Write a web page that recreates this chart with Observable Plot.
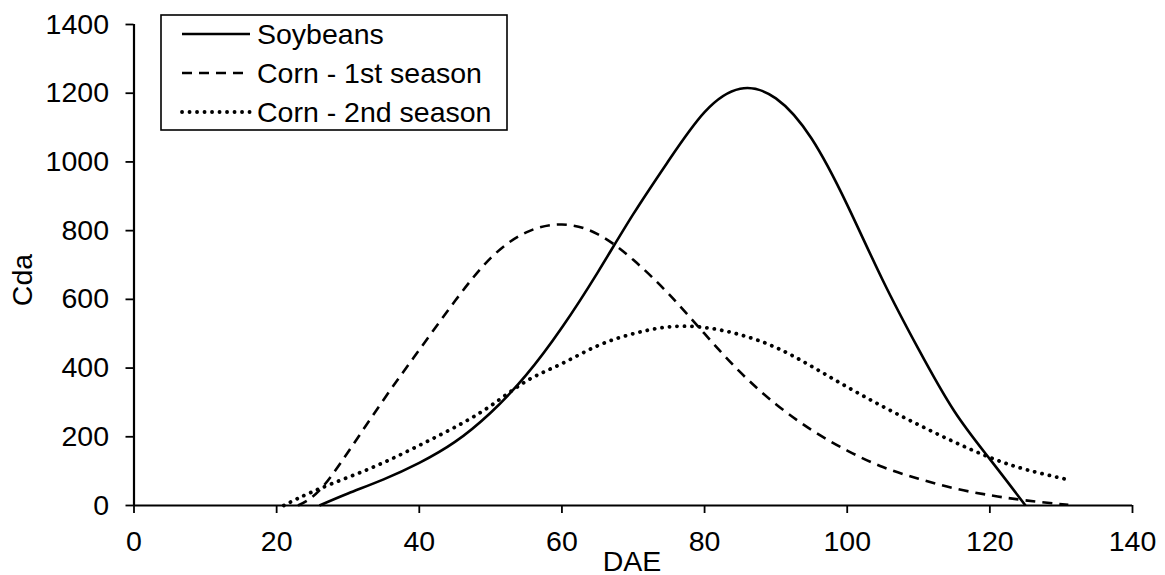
<!DOCTYPE html>
<html>
<head>
<meta charset="utf-8">
<script src="https://cdn.jsdelivr.net/npm/d3@7"></script>
<script src="https://cdn.jsdelivr.net/npm/@observablehq/plot@0.6"></script>
<style>
  html, body { margin: 0; padding: 0; background: #fff; }
  #chart { position: relative; width: 1165px; height: 575px; }
</style>
</head>
<body>
<div id="chart"></div>
<script>
// Series names (legend order)
const seriesNames = ["Soybeans", "Corn - 1st season", "Corn - 2nd season"];

// Soybeans (solid)
const soyDAE = [26, 30, 35, 40, 45, 50, 55, 60, 65, 70, 75, 80, 85, 90, 95, 100, 105, 110, 115, 120, 125];
const soyCda = [0, 35, 76, 124, 185, 270, 380, 518, 678, 848, 1005, 1145, 1213, 1185, 1068, 875, 655, 455, 275, 135, 0];

// Corn - 1st season (dashed)
const corn1DAE = [23, 26, 30, 35, 40, 45, 50, 55, 60, 65, 70, 75, 80, 85, 90, 95, 100, 105, 110, 115, 120, 125, 131];
const corn1Cda = [0, 44, 155, 308, 453, 595, 720, 795, 818, 790, 715, 615, 500, 388, 295, 220, 160, 112, 78, 50, 30, 15, 2];

// Corn - 2nd season (dotted)
const corn2DAE = [21, 25, 30, 35, 40, 45, 50, 55, 60, 65, 70, 75, 80, 85, 90, 95, 100, 105, 110, 115, 120, 125, 131];
const corn2Cda = [0, 40, 82, 125, 175, 228, 290, 362, 413, 465, 500, 520, 518, 497, 460, 405, 345, 288, 235, 185, 140, 105, 75];

// Axis ticks
const xTicks = [0, 20, 40, 60, 80, 100, 120, 140];
const yTicks = [0, 200, 400, 600, 800, 1000, 1200, 1400];

const zip = (xs, ys, s) => xs.map((x, i) => ({DAE: x, Cda: ys[i], series: s}));
const soy = zip(soyDAE, soyCda, seriesNames[0]);
const corn1 = zip(corn1DAE, corn1Cda, seriesNames[1]);
const corn2 = zip(corn2DAE, corn2Cda, seriesNames[2]);

const styles = [
  {strokeWidth: 2.6, strokeDasharray: null, strokeLinecap: "butt"},
  {strokeWidth: 2.6, strokeDasharray: "10,7", strokeLinecap: "butt"},
  {strokeWidth: 3.8, strokeDasharray: "0.1,7.4", strokeLinecap: "round"}
];

const W = 1165, H = 575;
const mL = 133.5, mR = 33, mT = 24, mB = 70;
const fontFamily = "'Liberation Sans', Arial, sans-serif";
const fs = 28.5;

const plot = Plot.plot({
  width: W,
  height: H,
  marginLeft: mL,
  marginRight: mR,
  marginTop: mT,
  marginBottom: mB,
  style: {fontFamily, fontSize: fs + "px", color: "#000", background: "#fff", overflow: "visible"},
  x: {domain: [0, 140]},
  y: {domain: [0, 1400]},
  marks: [
    Plot.axisX({ticks: xTicks, tickSize: 8, tickPadding: 17, label: null, tickFormat: d => String(d), strokeWidth: 1.8, fontSize: fs}),
    Plot.axisY({ticks: yTicks, tickSize: 8, tickPadding: 17, label: null, tickFormat: d => String(d), strokeWidth: 1.8, fontSize: fs}),
    Plot.ruleX([0], {stroke: "#000", strokeWidth: 2.2}),
    Plot.line(corn1, {x: "DAE", y: "Cda", curve: "natural", stroke: "#000", ...styles[1]}),
    Plot.line(corn2, {x: "DAE", y: "Cda", curve: "natural", stroke: "#000", ...styles[2]}),
    Plot.line(soy, {x: "DAE", y: "Cda", curve: "natural", stroke: "#000", ...styles[0]}),
    Plot.ruleY([0], {stroke: "#000", strokeWidth: 2.2})
  ]
});

document.getElementById("chart").appendChild(plot);

// Axis titles and legend
const svg = d3.select(plot);
svg.append("text")
  .attr("x", 632).attr("y", 571)
  .attr("text-anchor", "middle")
  .attr("font-family", fontFamily).attr("font-size", fs).attr("fill", "#000")
  .text("DAE");
svg.append("text")
  .attr("transform", "translate(32,280) rotate(-90)")
  .attr("text-anchor", "middle")
  .attr("font-family", fontFamily).attr("font-size", fs).attr("fill", "#000")
  .text("Cda");

const leg = svg.append("g");
leg.append("rect")
  .attr("x", 161).attr("y", 15).attr("width", 346).attr("height", 115)
  .attr("fill", "#fff").attr("stroke", "#000").attr("stroke-width", 1.6);
const rowsY = [34, 73, 112];
seriesNames.forEach((name, i) => {
  const st = styles[i];
  leg.append("line")
    .attr("x1", 182).attr("x2", 250).attr("y1", rowsY[i]).attr("y2", rowsY[i])
    .attr("stroke", "#000").attr("stroke-width", st.strokeWidth)
    .attr("stroke-dasharray", st.strokeDasharray)
    .attr("stroke-linecap", st.strokeLinecap);
  leg.append("text")
    .attr("x", 257).attr("y", rowsY[i] + 10)
    .attr("text-anchor", "start")
    .attr("font-family", fontFamily).attr("font-size", fs).attr("fill", "#000")
    .text(name);
});
</script>
</body>
</html>
